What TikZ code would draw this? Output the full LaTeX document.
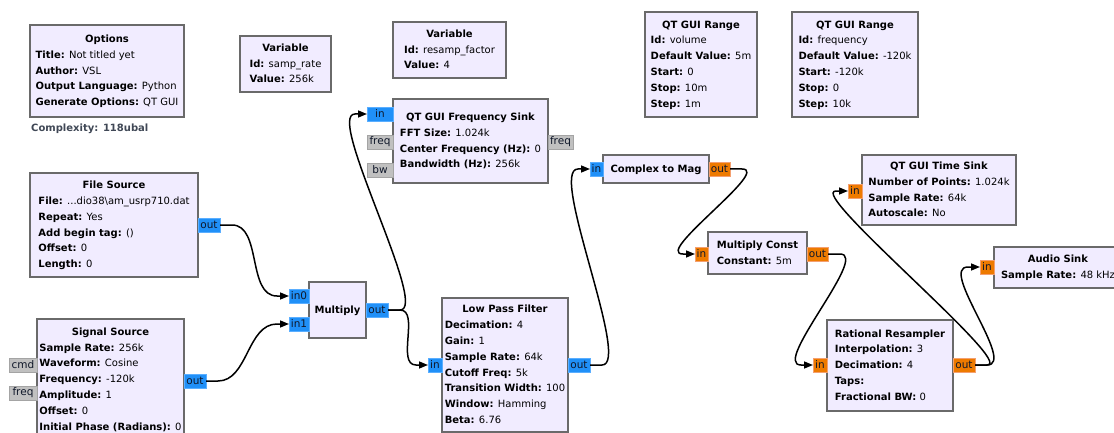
\documentclass[tikz,border=0pt]{standalone}
\usepackage{fontspec}
\setmainfont{DejaVu Sans}
\usetikzlibrary{arrows.meta}
\definecolor{blkfill}{HTML}{F1ECFF}
\definecolor{blkdraw}{HTML}{6A6A6A}
\definecolor{cplx}{HTML}{2090F8}
\definecolor{cplxd}{HTML}{5AAEFF}
\definecolor{flt}{HTML}{EE7A00}
\definecolor{fltd}{HTML}{F4A070}
\definecolor{msg}{HTML}{C0C0C0}
\definecolor{msgd}{HTML}{A4A4A4}
\definecolor{cpxtext}{HTML}{404856}
\definecolor{porttext}{HTML}{10182A}
\newcommand{\blktitle}[1]{\multicolumn{1}{@{}c@{}}{\textbf{#1}}}
\newcommand{\blkkv}[2]{\textbf{#1:} #2}
\newcommand{\blk}[6]{%
  \node[blockbox, minimum width={#4-#2}, minimum height={#5-#3}] (#1) at ({(#2+#4)/2},{(#3+#5)/2}) {};
  \node[blocktext] (#1-text) at (#1.center) {\begin{tabular}{@{}l@{}}#6\end{tabular}};}
\tikzset{
  blockbox/.style={draw=blkdraw, line width=1.3pt, fill=blkfill, inner sep=0pt, outer sep=0pt},
  blocktext/.style={inner sep=0pt, font=\fontsize{10}{15.8}\selectfont},
  port/.style={minimum height=14pt, inner sep=0pt, outer sep=0pt, line width=0.8pt, text=porttext, font=\fontsize{10.5}{12}\selectfont},
  cport/.style={port, fill=cplx, draw=cplxd},
  fport/.style={port, fill=flt, draw=fltd},
  mport/.style={port, fill=msg, draw=msgd},
  conn/.style={line width=1.5pt, -{Triangle[length=9pt,width=7pt]}}
}
\begin{document}
\begin{tikzpicture}[x=1pt,y=-1pt]
\fill[white] (0,0) rectangle (1114,433);
\useasboundingbox (0,0) rectangle (1114,433);

\blk{opt}{30}{25}{184}{117}{\blktitle{Options}\\ \blkkv{Title}{Not titled yet}\\ \blkkv{Author}{VSL}\\ \blkkv{Output Language}{Python}\\ \blkkv{Generate Options}{QT GUI}}
\node[anchor=west, inner sep=0pt, text=cpxtext, font=\bfseries\fontsize{10}{12}\selectfont] (cplxlabel) at (31,129) {Complexity: 118ubal};

\blk{vsr}{240}{36}{331}{92}{\blktitle{Variable}\\ \blkkv{Id}{samp\_rate}\\ \blkkv{Value}{256k}}
\blk{vrf}{393}{22}{506}{78}{\blktitle{Variable}\\ \blkkv{Id}{resamp\_factor}\\ \blkkv{Value}{4}}
\blk{rvol}{645}{12}{757}{117}{\blktitle{QT GUI Range}\\ \blkkv{Id}{volume}\\ \blkkv{Default Value}{5m}\\ \blkkv{Start}{0}\\ \blkkv{Stop}{10m}\\ \blkkv{Step}{1m}}
\blk{rfreq}{792}{12}{918}{117}{\blktitle{QT GUI Range}\\ \blkkv{Id}{frequency}\\ \blkkv{Default Value}{-120k}\\ \blkkv{Start}{-120k}\\ \blkkv{Stop}{0}\\ \blkkv{Step}{10k}}
\blk{fs}{393}{99}{548}{183}{\blktitle{QT GUI Frequency Sink}\\ \blkkv{FFT Size}{1.024k}\\ \blkkv{Center Frequency (Hz)}{0}\\ \blkkv{Bandwidth (Hz)}{256k}}
\blk{ctm}{603}{155}{709}{183}{\blktitle{Complex to Mag}}
\blk{fsrc}{30}{173}{198}{277}{\blktitle{File Source}\\ \blkkv{File}{...dio38\textbackslash am\_usrp710.dat}\\ \blkkv{Repeat}{Yes}\\ \blkkv{Add begin tag}{()}\\ \blkkv{Offset}{0}\\ \blkkv{Length}{0}}
\blk{ssrc}{37}{319}{184}{440}{\blktitle{Signal Source}\\ \blkkv{Sample Rate}{256k}\\ \blkkv{Waveform}{Cosine}\\ \blkkv{Frequency}{-120k}\\ \blkkv{Amplitude}{1}\\ \blkkv{Offset}{0}\\ \blkkv{Initial Phase (Radians)}{0}}
\blk{mul}{309}{282}{366}{338}{\blktitle{Multiply}}
\blk{lpf}{442}{298}{568}{432}{\blktitle{Low Pass Filter}\\ \blkkv{Decimation}{4}\\ \blkkv{Gain}{1}\\ \blkkv{Sample Rate}{64k}\\ \blkkv{Cutoff Freq}{5k}\\ \blkkv{Transition Width}{100}\\ \blkkv{Window}{Hamming}\\ \blkkv{Beta}{6.76}}
\blk{mc}{708}{232}{807}{274}{\blktitle{Multiply Const}\\ \blkkv{Constant}{5m}}
\blk{ts}{862}{155}{1016}{225}{\blktitle{QT GUI Time Sink}\\ \blkkv{Number of Points}{1.024k}\\ \blkkv{Sample Rate}{64k}\\ \blkkv{Autoscale}{No}}
\blk{as}{994}{247}{1122}{288}{\blktitle{Audio Sink}\\ \blkkv{Sample Rate}{48 kHz}}
\blk{rr}{827}{320}{953}{411}{\blktitle{Rational Resampler}\\ \blkkv{Interpolation}{3}\\ \blkkv{Decimation}{4}\\ \blkkv{Taps}{}\\ \blkkv{Fractional BW}{0}}

% ports
\node[cport, minimum width=26pt, anchor=east] (fs-in) at (fs.west |- 0,114) {in};
\node[mport, minimum width=26pt, anchor=east] (fs-freq) at (fs.west |- 0,142) {freq};
\node[mport, minimum width=26pt, anchor=east] (fs-bw) at (fs.west |- 0,170) {bw};
\node[mport, minimum width=25pt, anchor=west] (fs-freqo) at (fs.east |- 0,142) {freq};
\node[cport, minimum width=13pt, anchor=east] (ctm-in) at (ctm.west |- 0,169) {in};
\node[fport, minimum width=21pt, anchor=west] (ctm-out) at (ctm.east |- 0,169) {out};
\node[cport, minimum width=22pt, anchor=west] (fsrc-out) at (fsrc.east |- 0,225) {out};
\node[mport, minimum width=28pt, anchor=east] (ss-cmd) at (ssrc.west |- 0,365) {cmd};
\node[mport, minimum width=28pt, anchor=east] (ss-freq) at (ssrc.west |- 0,393) {freq};
\node[cport, minimum width=22pt, anchor=west] (ss-out) at (ssrc.east |- 0,381) {out};
\node[cport, minimum width=20pt, anchor=east] (mul-in0) at (mul.west |- 0,296) {in0};
\node[cport, minimum width=20pt, anchor=east] (mul-in1) at (mul.west |- 0,324) {in1};
\node[cport, minimum width=22pt, anchor=west] (mul-out) at (mul.east |- 0,310) {out};
\node[cport, minimum width=14pt, anchor=east] (lpf-in) at (lpf.west |- 0,365) {in};
\node[cport, minimum width=22pt, anchor=west] (lpf-out) at (lpf.east |- 0,365) {out};
\node[fport, minimum width=13pt, anchor=east] (mc-in) at (mc.west |- 0,254) {in};
\node[fport, minimum width=21pt, anchor=west] (mc-out) at (mc.east |- 0,254) {out};
\node[fport, minimum width=14pt, anchor=east] (ts-in) at (ts.west |- 0,191) {in};
\node[fport, minimum width=14pt, anchor=east] (as-in) at (as.west |- 0,267) {in};
\node[fport, minimum width=14pt, anchor=east] (rr-in) at (rr.west |- 0,365) {in};
\node[fport, minimum width=22pt, anchor=west] (rr-out) at (rr.east |- 0,365) {out};

% connections
\draw[conn] (fsrc-out.east) -- ++(12,0) .. controls +(30,0) and +(-30,0) .. ([xshift=-12pt]mul-in0.west) -- (mul-in0.west);
\draw[conn] (ss-out.east) -- ++(12,0) .. controls +(30,0) and +(-30,0) .. ([xshift=-12pt]mul-in1.west) -- (mul-in1.west);
\draw[conn] (mul-out.east) -- ++(12,0) .. controls +(30,0) and +(-30,0) .. ([xshift=-12pt]fs-in.west) -- (fs-in.west);
\draw[conn] (mul-out.east) -- ++(12,0) .. controls +(20,0) and +(-20,0) .. ([xshift=-12pt]lpf-in.west) -- (lpf-in.west);
\draw[conn] (lpf-out.east) -- ++(12,0) .. controls +(30,0) and +(-30,0) .. ([xshift=-12pt]ctm-in.west) -- (ctm-in.west);
\draw[conn] (ctm-out.east) -- ++(12,0) .. controls +(30,0) and +(-30,0) .. ([xshift=-12pt]mc-in.west) -- (mc-in.west);
\draw[conn] (mc-out.east) -- ++(12,0) .. controls +(30,0) and +(-30,0) .. ([xshift=-12pt]rr-in.west) -- (rr-in.west);
\draw[conn] (rr-out.east) -- ++(12,0) .. controls +(30,0) and +(-30,0) .. ([xshift=-12pt]ts-in.west) -- (ts-in.west);
\draw[conn] (rr-out.east) -- ++(12,0) .. controls +(30,0) and +(-30,0) .. ([xshift=-12pt]as-in.west) -- (as-in.west);
\end{tikzpicture}
\end{document}
